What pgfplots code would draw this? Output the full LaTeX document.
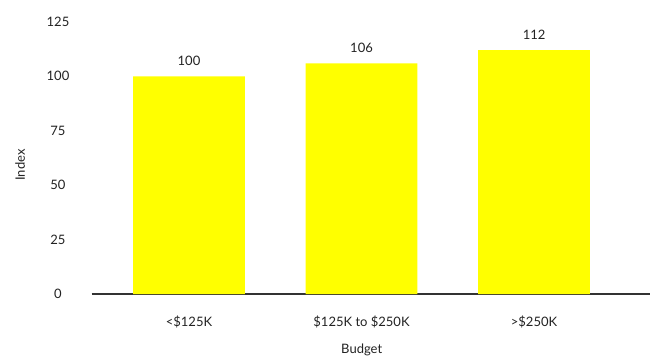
\documentclass[border=0pt]{standalone}
\usepackage{pgfplots}
\pgfplotsset{compat=1.18}
\usepackage{fontspec}
\setmainfont{Lato}
\definecolor{baryellow}{HTML}{FFFF00}
\definecolor{txt}{HTML}{222222}
\begin{document}
\begin{tikzpicture}
\path[use as bounding box] (-91.7pt,-66pt) rectangle (563.3pt,294pt);
\begin{axis}[
  at={(0,0)}, anchor=south west,
  scale only axis,
  width=558.3pt, height=272.1pt,
  xmin=-0.564, xmax=2.672,
  ymin=0, ymax=125,
  xtick={0,1,2},
  xticklabels={{<\$125K},{\$125K to \$250K},{>\$250K}},
  ytick={0,25,50,75,100,125},
  axis x line*=bottom,
  axis y line*=left,
  y axis line style={draw=none},
  x axis line style={draw=black!80, line width=1.2pt},
  tick style={draw=none},
  /pgf/number format/assume math mode=true,
  tick label style={font=\fontsize{13}{15}\selectfont, text=txt},
  xticklabel style={anchor=center, yshift=-27.7pt},
  yticklabel style={anchor=center, xshift=-33.7pt},
  xlabel={Budget},
  ylabel={Index},
  label style={font=\fontsize{13}{15}\selectfont, text=txt},
  xlabel style={at={(axis description cs:0.4836,-0.206)}, anchor=center},
  ylabel style={at={(axis description cs:-0.1284,0.474)}, anchor=center, rotate=0},
  nodes near coords,
  nodes near coords style={anchor=center, yshift=15pt, font=\fontsize{13}{15}\selectfont, text=txt},
  clip=false,
]
\addplot[ybar, bar width=111.7pt, fill=baryellow, draw=none] coordinates {(0,100) (1,106) (2,112)};
\end{axis}
\end{tikzpicture}
\end{document}
